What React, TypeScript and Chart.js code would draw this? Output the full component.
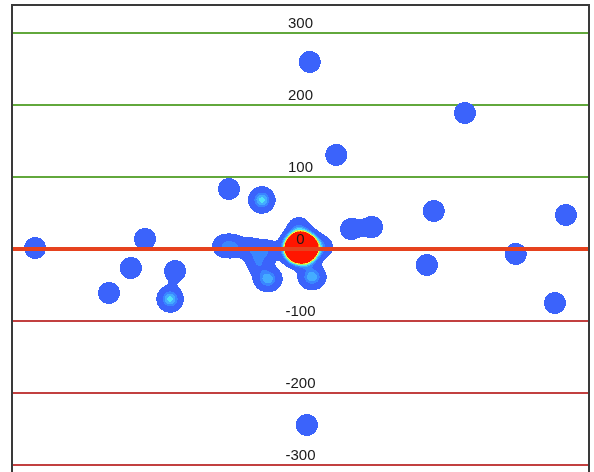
import { useEffect, useRef } from 'react';
import { Chart, registerables } from 'chart.js';

Chart.register(...registerables);

// ---- data ----
const tickValues = [300, 200, 100, 0, -100, -200, -300];
const tickLabels = ['300', '200', '100', '0', '-100', '-200', '-300'];

const X_MIN = 0;
const X_MAX = 100;
const Y_MAX = 338.4;
const Y_MIN = -348.1;

// hit positions (x: horizontal position, y: deviation) and number of hits at each spot
const hitX = [
  4.0, 23.05, 20.6, 16.8, 28.25, 27.4, 37.6, 43.3,
  36.6, 38.6, 41.6, 44.4,
  49.2, 50.1, 51.0, 49.2, 50.1, 51.0, 49.2, 50.1, 51.0,
  49.7, 53.7, 42.6, 43.8, 44.9, 51.5, 52.5,
  51.6, 56.2, 78.5, 58.75, 62.4, 73.1, 96.0, 71.9, 87.3, 94.1, 51.1,
];
const hitY = [
  1.4, 13.9, -26.4, -61.0, -30.5, -69.3, 83.2, 68.0,
  4.2, 4.2, 0, -2.8,
  6.9, 6.9, 6.9, 1.4, 1.4, 1.4, -4.2, -4.2, -4.2,
  29.1, 2.8, -19.4, -41.6, -41.6, -38.8, -38.8,
  259.4, 130.4, 188.6, 27.7, 30.5, 52.7, 47.2, -22.2, -6.9, -74.9, -244.1,
];
const hitCount = [
  1, 1, 1, 1, 1, 2, 1, 2,
  1, 1, 1, 1,
  3, 3, 3, 3, 7, 3, 3, 3, 3,
  1, 1, 1, 1, 1, 1, 1,
  1, 1, 1, 1, 1, 1, 1, 1, 1, 1, 1,
];

// ---- styles ----
const KERNEL_2SIGMA2 = 100;
const heatLevels: [number, [number, number, number]][] = [
  [0.3, [59, 99, 251]],
  [1.15, [58, 134, 255]],
  [1.5, [68, 172, 255]],
  [1.85, [80, 226, 248]],
  [2.3, [170, 245, 110]],
  [2.65, [248, 245, 70]],
  [3.05, [255, 150, 30]],
  [3.3, [255, 22, 0]],
];
const POS_GRID = '#62a83c';
const NEG_GRID = '#c24040';

const gridPlugin = {
  id: 'bandGrid',
  beforeDatasetsDraw(chart: any) {
    const { ctx, chartArea: a } = chart;
    const ys = chart.scales.y;
    ctx.save();
    ctx.lineWidth = 2;
    tickValues.forEach((v) => {
      if (v === 0) return;
      const py = Math.round(ys.getPixelForValue(v));
      ctx.strokeStyle = v > 0 ? POS_GRID : NEG_GRID;
      ctx.beginPath();
      ctx.moveTo(a.left, py);
      ctx.lineTo(a.right, py);
      ctx.stroke();
    });
    ctx.restore();
  },
};

const heatmapPlugin = {
  id: 'heatmap',
  beforeDatasetsDraw(chart: any) {
    const area = chart.chartArea;
    const W = Math.round(area.right - area.left);
    const H = Math.round(area.bottom - area.top);
    const dens = new Float32Array(W * H);
    const meta = chart.getDatasetMeta(0);
    const raw = chart.data.datasets[0].data as any[];
    const rad = 26;
    meta.data.forEach((el: any, k: number) => {
      const w = raw[k].w;
      const cx = el.x - area.left;
      const cy = el.y - area.top;
      const j0 = Math.max(0, Math.floor(cy - rad));
      const j1 = Math.min(H, Math.ceil(cy + rad));
      const i0 = Math.max(0, Math.floor(cx - rad));
      const i1 = Math.min(W, Math.ceil(cx + rad));
      for (let j = j0; j < j1; j++) {
        const dy = j + 0.5 - cy;
        for (let i = i0; i < i1; i++) {
          const dx = i + 0.5 - cx;
          dens[j * W + i] += w * Math.exp(-(dx * dx + dy * dy) / KERNEL_2SIGMA2);
        }
      }
    });
    const off = document.createElement('canvas');
    off.width = W;
    off.height = H;
    const octx = off.getContext('2d')!;
    const img = octx.createImageData(W, H);
    for (let p = 0; p < W * H; p++) {
      const d = dens[p];
      if (d < heatLevels[0][0]) continue;
      let col = heatLevels[0][1];
      for (let l = 0; l < heatLevels.length; l++) {
        if (d >= heatLevels[l][0]) col = heatLevels[l][1];
      }
      img.data[p * 4] = col[0];
      img.data[p * 4 + 1] = col[1];
      img.data[p * 4 + 2] = col[2];
      img.data[p * 4 + 3] = 255;
    }
    octx.putImageData(img, 0, 0);
    chart.ctx.drawImage(off, area.left, area.top);
  },
};

const overlayPlugin = {
  id: 'overlay',
  afterDatasetsDraw(chart: any) {
    const { ctx, chartArea: a } = chart;
    const ys = chart.scales.y;
    ctx.save();
    ctx.font = "15px 'Liberation Sans', Arial, sans-serif";
    ctx.fillStyle = '#1a1a1a';
    ctx.textAlign = 'center';
    ctx.textBaseline = 'alphabetic';
    const cx = (a.left + a.right) / 2;
    tickValues.forEach((v, i) => {
      const py = ys.getPixelForValue(v);
      ctx.fillText(tickLabels[i], cx, py - 5);
    });
    ctx.restore();
  },
  afterDraw(chart: any) {
    const { ctx, chartArea: a } = chart;
    ctx.save();
    ctx.strokeStyle = '#3a3a3a';
    ctx.lineWidth = 2;
    ctx.beginPath();
    ctx.moveTo(a.left, a.bottom + 5);
    ctx.lineTo(a.left, a.top);
    ctx.lineTo(a.right, a.top);
    ctx.lineTo(a.right, a.bottom + 5);
    ctx.stroke();
    ctx.restore();
  },
};

export default function App() {
  const ref = useRef<HTMLCanvasElement | null>(null);
  useEffect(() => {
    if (!ref.current) return;
    const hits = hitX.map((x, i) => ({ x, y: hitY[i], w: hitCount[i] }));
    const chart = new Chart(ref.current, {
      type: 'scatter',
      data: {
        datasets: [
          {
            type: 'scatter',
            data: hits,
            pointRadius: 0,
            pointHoverRadius: 0,
            order: 2,
          } as any,
          {
            type: 'line',
            data: [
              { x: X_MIN, y: 0 },
              { x: X_MAX, y: 0 },
            ],
            borderColor: '#e6421e',
            borderWidth: 4,
            pointRadius: 0,
            order: 1,
          } as any,
        ],
      },
      options: {
        animation: false,
        responsive: false,
        events: [],
        layout: { padding: { left: 12, right: 5, top: 5, bottom: 0 } },
        plugins: { legend: { display: false }, tooltip: { enabled: false } },
        scales: {
          x: { type: 'linear', min: X_MIN, max: X_MAX, display: false },
          y: { type: 'linear', min: Y_MIN, max: Y_MAX, display: false },
        },
      },
      plugins: [gridPlugin, heatmapPlugin, overlayPlugin],
    });
    return () => chart.destroy();
  }, []);
  return (
    <div
      style={{
        position: 'fixed',
        left: 0,
        top: 0,
        width: 594,
        height: 472,
        overflow: 'hidden',
        background: '#fff',
      }}
    >
      <canvas ref={ref} width={594} height={500} style={{ display: 'block' }} />
    </div>
  );
}
